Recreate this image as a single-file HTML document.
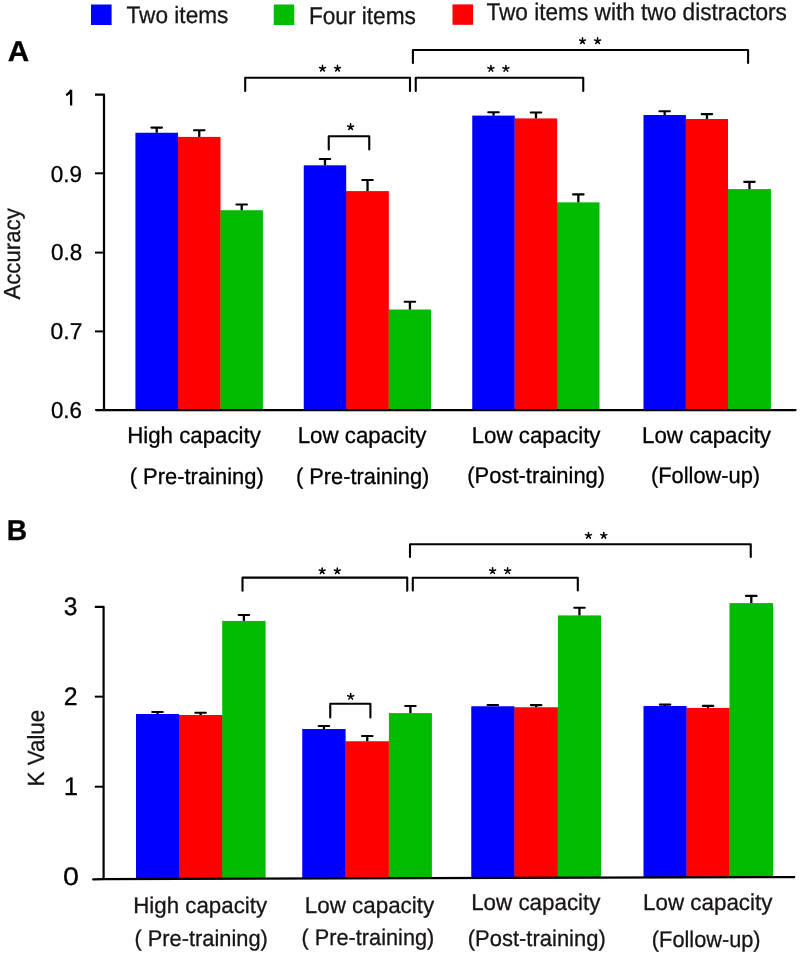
<!DOCTYPE html>
<html><head><meta charset="utf-8"><title>Figure</title>
<style>
html,body{margin:0;padding:0;background:#fff;}
body{width:800px;height:954px;overflow:hidden;}
svg{display:block;will-change:transform;font-family:"Liberation Sans",sans-serif;}
text{text-rendering:geometricPrecision;stroke-width:0.3px;}
</style></head>
<body>
<svg width="800" height="954" viewBox="0 0 800 954">
<rect width="800" height="954" fill="#fff"/>
<rect x="135.40" y="132.75" width="42.60" height="277.25" fill="#0000ff"/>
<rect x="177.90" y="136.90" width="0.90" height="273.10" fill="#0000ff"/>
<line x1="156.70" y1="127.60" x2="156.70" y2="132.75" stroke="#000" stroke-width="2.3"/><line x1="151.45" y1="127.60" x2="161.95" y2="127.60" stroke="#000" stroke-width="2.1" stroke-linecap="round"/>
<rect x="178.00" y="136.90" width="42.50" height="273.10" fill="#ff0000"/>
<rect x="220.40" y="210.20" width="0.90" height="199.80" fill="#ff0000"/>
<line x1="199.25" y1="130.30" x2="199.25" y2="136.90" stroke="#000" stroke-width="2.3"/><line x1="194.00" y1="130.30" x2="204.50" y2="130.30" stroke="#000" stroke-width="2.1" stroke-linecap="round"/>
<rect x="220.50" y="210.20" width="42.40" height="199.80" fill="#00bb00"/>
<line x1="241.70" y1="204.50" x2="241.70" y2="210.20" stroke="#000" stroke-width="2.3"/><line x1="236.45" y1="204.50" x2="246.95" y2="204.50" stroke="#000" stroke-width="2.1" stroke-linecap="round"/>
<rect x="303.75" y="165.30" width="42.45" height="244.70" fill="#0000ff"/>
<rect x="346.10" y="191.10" width="0.90" height="218.90" fill="#0000ff"/>
<line x1="324.98" y1="159.00" x2="324.98" y2="165.30" stroke="#000" stroke-width="2.3"/><line x1="319.73" y1="159.00" x2="330.23" y2="159.00" stroke="#000" stroke-width="2.1" stroke-linecap="round"/>
<rect x="346.20" y="191.10" width="42.65" height="218.90" fill="#ff0000"/>
<rect x="388.75" y="309.50" width="0.90" height="100.50" fill="#ff0000"/>
<line x1="367.52" y1="180.00" x2="367.52" y2="191.10" stroke="#000" stroke-width="2.3"/><line x1="362.27" y1="180.00" x2="372.77" y2="180.00" stroke="#000" stroke-width="2.1" stroke-linecap="round"/>
<rect x="388.85" y="309.50" width="42.15" height="100.50" fill="#00bb00"/>
<line x1="409.93" y1="301.80" x2="409.93" y2="309.50" stroke="#000" stroke-width="2.3"/><line x1="404.68" y1="301.80" x2="415.18" y2="301.80" stroke="#000" stroke-width="2.1" stroke-linecap="round"/>
<rect x="472.25" y="115.60" width="42.50" height="294.40" fill="#0000ff"/>
<rect x="514.65" y="118.40" width="0.90" height="291.60" fill="#0000ff"/>
<line x1="493.50" y1="112.25" x2="493.50" y2="115.60" stroke="#000" stroke-width="2.3"/><line x1="488.25" y1="112.25" x2="498.75" y2="112.25" stroke="#000" stroke-width="2.1" stroke-linecap="round"/>
<rect x="514.75" y="118.40" width="42.45" height="291.60" fill="#ff0000"/>
<rect x="557.10" y="202.35" width="0.90" height="207.65" fill="#ff0000"/>
<line x1="535.98" y1="112.50" x2="535.98" y2="118.40" stroke="#000" stroke-width="2.3"/><line x1="530.73" y1="112.50" x2="541.23" y2="112.50" stroke="#000" stroke-width="2.1" stroke-linecap="round"/>
<rect x="557.20" y="202.35" width="42.30" height="207.65" fill="#00bb00"/>
<line x1="578.35" y1="194.40" x2="578.35" y2="202.35" stroke="#000" stroke-width="2.3"/><line x1="573.10" y1="194.40" x2="583.60" y2="194.40" stroke="#000" stroke-width="2.1" stroke-linecap="round"/>
<rect x="643.50" y="115.00" width="42.40" height="295.00" fill="#0000ff"/>
<rect x="685.80" y="119.00" width="0.90" height="291.00" fill="#0000ff"/>
<line x1="664.70" y1="111.25" x2="664.70" y2="115.00" stroke="#000" stroke-width="2.3"/><line x1="659.45" y1="111.25" x2="669.95" y2="111.25" stroke="#000" stroke-width="2.1" stroke-linecap="round"/>
<rect x="685.90" y="119.00" width="42.10" height="291.00" fill="#ff0000"/>
<rect x="727.90" y="189.10" width="0.90" height="220.90" fill="#ff0000"/>
<line x1="706.95" y1="114.10" x2="706.95" y2="119.00" stroke="#000" stroke-width="2.3"/><line x1="701.70" y1="114.10" x2="712.20" y2="114.10" stroke="#000" stroke-width="2.1" stroke-linecap="round"/>
<rect x="728.00" y="189.10" width="42.90" height="220.90" fill="#00bb00"/>
<line x1="749.45" y1="181.85" x2="749.45" y2="189.10" stroke="#000" stroke-width="2.3"/><line x1="744.20" y1="181.85" x2="754.70" y2="181.85" stroke="#000" stroke-width="2.1" stroke-linecap="round"/>
<path d="M95 94.7 H104 V410.5" fill="none" stroke="#000" stroke-width="2.2" stroke-linejoin="round"/>
<line x1="96" y1="410.1" x2="795.6" y2="410.1" stroke="#000" stroke-width="2.1" stroke-linecap="round"/>
<line x1="95" y1="173.3" x2="104" y2="173.3" stroke="#000" stroke-width="2"/>
<line x1="95" y1="252.6" x2="104" y2="252.6" stroke="#000" stroke-width="2"/>
<line x1="95" y1="331.4" x2="104" y2="331.4" stroke="#000" stroke-width="2"/>
<path d="M245.20 91.00V77.80H410.00V91.00" fill="none" stroke="#000" stroke-width="2.1" stroke-linejoin="round" stroke-linecap="round"/>
<path d="M415.75 91.00V77.70H583.25V91.00" fill="none" stroke="#000" stroke-width="2.1" stroke-linejoin="round" stroke-linecap="round"/>
<path d="M412.90 63.00V50.00H748.10V63.00" fill="none" stroke="#000" stroke-width="2.1" stroke-linejoin="round" stroke-linecap="round"/>
<path d="M328.75 149.40V136.25H369.25V149.40" fill="none" stroke="#000" stroke-width="2.1" stroke-linejoin="round" stroke-linecap="round"/>
<rect x="136.00" y="714.00" width="43.00" height="164.00" fill="#0000ff"/>
<rect x="178.90" y="715.00" width="0.90" height="163.00" fill="#0000ff"/>
<line x1="157.50" y1="712.00" x2="157.50" y2="714.00" stroke="#000" stroke-width="2.3"/><line x1="152.25" y1="712.00" x2="162.75" y2="712.00" stroke="#000" stroke-width="2.1" stroke-linecap="round"/>
<rect x="179.00" y="715.00" width="43.20" height="163.00" fill="#ff0000"/>
<rect x="222.10" y="715.00" width="0.90" height="163.00" fill="#ff0000"/>
<line x1="200.60" y1="712.75" x2="200.60" y2="715.00" stroke="#000" stroke-width="2.3"/><line x1="195.35" y1="712.75" x2="205.85" y2="712.75" stroke="#000" stroke-width="2.1" stroke-linecap="round"/>
<rect x="222.20" y="620.90" width="43.40" height="257.10" fill="#00bb00"/>
<line x1="243.90" y1="615.00" x2="243.90" y2="620.90" stroke="#000" stroke-width="2.3"/><line x1="238.65" y1="615.00" x2="249.15" y2="615.00" stroke="#000" stroke-width="2.1" stroke-linecap="round"/>
<rect x="302.25" y="729.00" width="43.35" height="149.00" fill="#0000ff"/>
<rect x="345.50" y="741.25" width="0.90" height="136.75" fill="#0000ff"/>
<line x1="323.93" y1="726.00" x2="323.93" y2="729.00" stroke="#000" stroke-width="2.3"/><line x1="318.68" y1="726.00" x2="329.18" y2="726.00" stroke="#000" stroke-width="2.1" stroke-linecap="round"/>
<rect x="345.60" y="741.25" width="43.30" height="136.75" fill="#ff0000"/>
<rect x="388.80" y="741.25" width="0.90" height="136.75" fill="#ff0000"/>
<line x1="367.25" y1="736.00" x2="367.25" y2="741.25" stroke="#000" stroke-width="2.3"/><line x1="362.00" y1="736.00" x2="372.50" y2="736.00" stroke="#000" stroke-width="2.1" stroke-linecap="round"/>
<rect x="388.90" y="713.10" width="43.00" height="164.90" fill="#00bb00"/>
<line x1="410.40" y1="706.00" x2="410.40" y2="713.10" stroke="#000" stroke-width="2.3"/><line x1="405.15" y1="706.00" x2="415.65" y2="706.00" stroke="#000" stroke-width="2.1" stroke-linecap="round"/>
<rect x="471.25" y="706.25" width="43.15" height="171.75" fill="#0000ff"/>
<rect x="514.30" y="707.25" width="0.90" height="170.75" fill="#0000ff"/>
<line x1="492.82" y1="705.00" x2="492.82" y2="706.25" stroke="#000" stroke-width="2.3"/><line x1="487.57" y1="705.00" x2="498.07" y2="705.00" stroke="#000" stroke-width="2.1" stroke-linecap="round"/>
<rect x="514.40" y="707.25" width="43.50" height="170.75" fill="#ff0000"/>
<rect x="557.80" y="707.25" width="0.90" height="170.75" fill="#ff0000"/>
<line x1="536.15" y1="705.10" x2="536.15" y2="707.25" stroke="#000" stroke-width="2.3"/><line x1="530.90" y1="705.10" x2="541.40" y2="705.10" stroke="#000" stroke-width="2.1" stroke-linecap="round"/>
<rect x="557.90" y="615.40" width="43.10" height="262.60" fill="#00bb00"/>
<line x1="579.45" y1="607.75" x2="579.45" y2="615.40" stroke="#000" stroke-width="2.3"/><line x1="574.20" y1="607.75" x2="584.70" y2="607.75" stroke="#000" stroke-width="2.1" stroke-linecap="round"/>
<rect x="643.50" y="706.00" width="43.10" height="172.00" fill="#0000ff"/>
<rect x="686.50" y="707.90" width="0.90" height="170.10" fill="#0000ff"/>
<line x1="665.05" y1="704.60" x2="665.05" y2="706.00" stroke="#000" stroke-width="2.3"/><line x1="659.80" y1="704.60" x2="670.30" y2="704.60" stroke="#000" stroke-width="2.1" stroke-linecap="round"/>
<rect x="686.60" y="707.90" width="42.90" height="170.10" fill="#ff0000"/>
<rect x="729.40" y="707.90" width="0.90" height="170.10" fill="#ff0000"/>
<line x1="708.05" y1="705.90" x2="708.05" y2="707.90" stroke="#000" stroke-width="2.3"/><line x1="702.80" y1="705.90" x2="713.30" y2="705.90" stroke="#000" stroke-width="2.1" stroke-linecap="round"/>
<rect x="729.50" y="603.10" width="43.60" height="274.90" fill="#00bb00"/>
<line x1="751.30" y1="595.90" x2="751.30" y2="603.10" stroke="#000" stroke-width="2.3"/><line x1="746.05" y1="595.90" x2="756.55" y2="595.90" stroke="#000" stroke-width="2.1" stroke-linecap="round"/>
<path d="M94.8 606.8 H103.6 V878" fill="none" stroke="#000" stroke-width="2.2" stroke-linejoin="round"/>
<path d="M93.2 879.4 L104 879.1 L794.3 877.1" fill="none" stroke="#000" stroke-width="2.2" stroke-linecap="round"/>
<line x1="94.8" y1="696.65" x2="103.6" y2="696.65" stroke="#000" stroke-width="2"/>
<line x1="94.8" y1="786.7" x2="103.6" y2="786.7" stroke="#000" stroke-width="2"/>
<path d="M242.50 590.70V577.60H407.25V590.70" fill="none" stroke="#000" stroke-width="2.1" stroke-linejoin="round" stroke-linecap="round"/>
<path d="M412.80 590.40V577.80H577.80V590.40" fill="none" stroke="#000" stroke-width="2.1" stroke-linejoin="round" stroke-linecap="round"/>
<path d="M410.00 557.00V544.20H750.75V557.00" fill="none" stroke="#000" stroke-width="2.1" stroke-linejoin="round" stroke-linecap="round"/>
<path d="M330.25 717.50V703.75H370.40V717.50" fill="none" stroke="#000" stroke-width="2.1" stroke-linejoin="round" stroke-linecap="round"/>
<path d="M66.2 95.3 Q69.4 93.4 71.1 90.0 V105.6" fill="none" stroke="#000" stroke-width="2.3"/>
<path d="M322.50 68.47L322.50 65.38M322.50 68.47L325.45 67.52M322.50 68.47L319.55 67.52M322.50 68.47L324.32 70.98M322.50 68.47L320.68 70.98" stroke="#000" stroke-width="1.55" stroke-linecap="round" fill="none"/>
<path d="M337.50 68.47L337.50 65.38M337.50 68.47L340.45 67.52M337.50 68.47L334.55 67.52M337.50 68.47L339.32 70.98M337.50 68.47L335.68 70.98" stroke="#000" stroke-width="1.55" stroke-linecap="round" fill="none"/>
<path d="M490.90 68.62L490.90 65.53M490.90 68.62L493.85 67.67M490.90 68.62L487.95 67.67M490.90 68.62L492.72 71.13M490.90 68.62L489.08 71.13" stroke="#000" stroke-width="1.55" stroke-linecap="round" fill="none"/>
<path d="M505.90 68.62L505.90 65.53M505.90 68.62L508.85 67.67M505.90 68.62L502.95 67.67M505.90 68.62L507.72 71.13M505.90 68.62L504.08 71.13" stroke="#000" stroke-width="1.55" stroke-linecap="round" fill="none"/>
<path d="M582.50 40.98L582.50 37.88M582.50 40.98L585.45 40.02M582.50 40.98L579.55 40.02M582.50 40.98L584.32 43.48M582.50 40.98L580.68 43.48" stroke="#000" stroke-width="1.55" stroke-linecap="round" fill="none"/>
<path d="M597.60 40.98L597.60 37.88M597.60 40.98L600.55 40.02M597.60 40.98L594.65 40.02M597.60 40.98L599.42 43.48M597.60 40.98L595.78 43.48" stroke="#000" stroke-width="1.55" stroke-linecap="round" fill="none"/>
<path d="M350.60 126.97L350.60 123.88M350.60 126.97L353.55 126.02M350.60 126.97L347.65 126.02M350.60 126.97L352.42 129.48M350.60 126.97L348.78 129.48" stroke="#000" stroke-width="1.55" stroke-linecap="round" fill="none"/>
<path d="M322.20 571.02L322.20 567.92M322.20 571.02L325.15 570.07M322.20 571.02L319.25 570.07M322.20 571.02L324.02 573.53M322.20 571.02L320.38 573.53" stroke="#000" stroke-width="1.55" stroke-linecap="round" fill="none"/>
<path d="M337.30 571.02L337.30 567.92M337.30 571.02L340.25 570.07M337.30 571.02L334.35 570.07M337.30 571.02L339.12 573.53M337.30 571.02L335.48 573.53" stroke="#000" stroke-width="1.55" stroke-linecap="round" fill="none"/>
<path d="M492.60 570.88L492.60 567.77M492.60 570.88L495.55 569.92M492.60 570.88L489.65 569.92M492.60 570.88L494.42 573.38M492.60 570.88L490.78 573.38" stroke="#000" stroke-width="1.55" stroke-linecap="round" fill="none"/>
<path d="M507.60 570.88L507.60 567.77M507.60 570.88L510.55 569.92M507.60 570.88L504.65 569.92M507.60 570.88L509.42 573.38M507.60 570.88L505.78 573.38" stroke="#000" stroke-width="1.55" stroke-linecap="round" fill="none"/>
<path d="M588.50 535.58L588.50 532.48M588.50 535.58L591.45 534.62M588.50 535.58L585.55 534.62M588.50 535.58L590.32 538.08M588.50 535.58L586.68 538.08" stroke="#000" stroke-width="1.55" stroke-linecap="round" fill="none"/>
<path d="M603.80 535.58L603.80 532.48M603.80 535.58L606.75 534.62M603.80 535.58L600.85 534.62M603.80 535.58L605.62 538.08M603.80 535.58L601.98 538.08" stroke="#000" stroke-width="1.55" stroke-linecap="round" fill="none"/>
<path d="M350.70 696.62L350.70 693.52M350.70 696.62L353.65 695.67M350.70 696.62L347.75 695.67M350.70 696.62L352.52 699.13M350.70 696.62L348.88 699.13" stroke="#000" stroke-width="1.55" stroke-linecap="round" fill="none"/>
<rect x="91" y="4.5" width="20.6" height="20.5" fill="#0000ff"/>
<rect x="273.75" y="4.5" width="20.5" height="20.5" fill="#00bb00"/>
<rect x="452.5" y="4.4" width="20.6" height="20.4" fill="#ff0000"/>
<text x="126.52" y="22.90" font-size="23.6" fill="#1a1515" stroke="#1a1515" textLength="101.89" lengthAdjust="spacingAndGlyphs">Two items</text>
<text x="308.88" y="23.75" font-size="24.2" fill="#1a1515" stroke="#1a1515" textLength="107.06" lengthAdjust="spacingAndGlyphs">Four items</text>
<text x="486.43" y="20.10" font-size="24.0" fill="#1a1515" stroke="#1a1515" textLength="300.51" lengthAdjust="spacingAndGlyphs">Two items with two distractors</text>
<text x="7.73" y="60.90" font-size="28.9" font-weight="bold" fill="#000" stroke="#000" textLength="21.42" lengthAdjust="spacingAndGlyphs">A</text>
<text x="6.79" y="539.90" font-size="28.8" font-weight="bold" fill="#000" stroke="#000" textLength="20.38" lengthAdjust="spacingAndGlyphs">B</text>
<text x="50.82" y="181.50" font-size="23.0" fill="#000" stroke="#000" textLength="31.34" lengthAdjust="spacingAndGlyphs">0.9</text>
<text x="50.92" y="260.10" font-size="23.0" fill="#000" stroke="#000" textLength="31.24" lengthAdjust="spacingAndGlyphs">0.8</text>
<text x="50.61" y="339.10" font-size="23.0" fill="#000" stroke="#000" textLength="31.72" lengthAdjust="spacingAndGlyphs">0.7</text>
<text x="50.93" y="418.20" font-size="23.0" fill="#000" stroke="#000" textLength="31.02" lengthAdjust="spacingAndGlyphs">0.6</text>
<text x="63.78" y="614.50" font-size="25.3" fill="#000" stroke="#000" textLength="13.67" lengthAdjust="spacingAndGlyphs">3</text>
<text x="63.67" y="704.90" font-size="25.3" fill="#000" stroke="#000" textLength="13.83" lengthAdjust="spacingAndGlyphs">2</text>
<text x="62.93" y="884.80" font-size="25.3" fill="#000" stroke="#000" textLength="15.88" lengthAdjust="spacingAndGlyphs">0</text>
<text x="63.67" y="795.20" font-size="25.3" fill="#000" stroke="#000" textLength="14.27" lengthAdjust="spacingAndGlyphs">1</text>
<text transform="translate(19.70 299.60) rotate(-90)" x="0" y="0" font-size="23.2" fill="#1a1515" stroke="#1a1515" textLength="91.40" lengthAdjust="spacingAndGlyphs">Accuracy</text>
<text transform="translate(43.60 786.52) rotate(-90)" x="0" y="0" font-size="23.4" fill="#1a1515" stroke="#1a1515" textLength="76.83" lengthAdjust="spacingAndGlyphs">K Value</text>
<text x="127.16" y="442.70" font-size="23.0" fill="#000" stroke="#000" textLength="133.66" lengthAdjust="spacingAndGlyphs">High capacity</text>
<text x="297.66" y="442.60" font-size="23.0" fill="#000" stroke="#000" textLength="128.85" lengthAdjust="spacingAndGlyphs">Low capacity</text>
<text x="471.66" y="442.60" font-size="23.0" fill="#000" stroke="#000" textLength="128.85" lengthAdjust="spacingAndGlyphs">Low capacity</text>
<text x="642.06" y="442.60" font-size="23.0" fill="#000" stroke="#000" textLength="128.95" lengthAdjust="spacingAndGlyphs">Low capacity</text>
<text x="129.65" y="483.90" font-size="22.7" fill="#000" stroke="#000" textLength="134.14" lengthAdjust="spacingAndGlyphs">( Pre-training)</text>
<text x="295.96" y="483.90" font-size="22.7" fill="#000" stroke="#000" textLength="133.32" lengthAdjust="spacingAndGlyphs">( Pre-training)</text>
<text x="467.30" y="483.25" font-size="22.7" fill="#000" stroke="#000" textLength="137.84" lengthAdjust="spacingAndGlyphs">(Post-training)</text>
<text x="650.96" y="482.50" font-size="22.7" fill="#000" stroke="#000" textLength="109.16" lengthAdjust="spacingAndGlyphs">(Follow-up)</text>
<text x="133.28" y="912.60" font-size="22.7" fill="#1a1515" stroke="#1a1515" textLength="133.87" lengthAdjust="spacingAndGlyphs">High capacity</text>
<text x="304.80" y="912.60" font-size="23.0" fill="#1a1515" stroke="#1a1515" textLength="129.41" lengthAdjust="spacingAndGlyphs">Low capacity</text>
<text x="471.15" y="910.10" font-size="23.0" fill="#1a1515" stroke="#1a1515" textLength="129.36" lengthAdjust="spacingAndGlyphs">Low capacity</text>
<text x="643.05" y="910.10" font-size="23.0" fill="#1a1515" stroke="#1a1515" textLength="129.36" lengthAdjust="spacingAndGlyphs">Low capacity</text>
<text x="134.46" y="945.90" font-size="22.7" fill="#1a1515" stroke="#1a1515" textLength="133.43" lengthAdjust="spacingAndGlyphs">( Pre-training)</text>
<text x="301.56" y="944.90" font-size="22.7" fill="#1a1515" stroke="#1a1515" textLength="132.71" lengthAdjust="spacingAndGlyphs">( Pre-training)</text>
<text x="467.80" y="945.75" font-size="22.7" fill="#1a1515" stroke="#1a1515" textLength="137.94" lengthAdjust="spacingAndGlyphs">(Post-training)</text>
<text x="651.86" y="946.50" font-size="22.7" fill="#1a1515" stroke="#1a1515" textLength="108.75" lengthAdjust="spacingAndGlyphs">(Follow-up)</text>
</svg>
</body></html>
